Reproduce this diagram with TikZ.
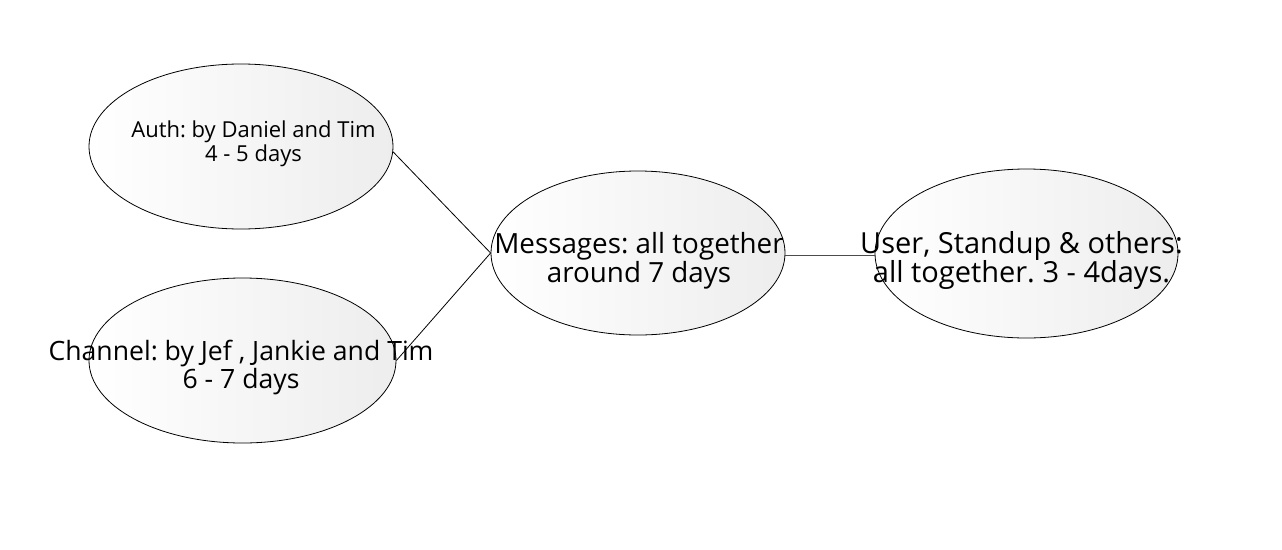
\documentclass[tikz,border=0pt]{standalone}
\usepackage{fontspec}
\setmainfont{Open Sans}
\usetikzlibrary{shapes.geometric}
\frenchspacing
\begin{document}
\begin{tikzpicture}[x=1pt,y=-1pt,
  blob/.style={ellipse,draw=black,line width=0.8pt,inner sep=0pt,
    shading=axis,left color=white,right color=gray!14,shading angle=90},
  lbl/.style={align=center,inner sep=0pt,text=black,anchor=base},
  conn/.style={draw=black,line width=0.8pt}]
\useasboundingbox (0,0) rectangle (1282,549);
\node[blob,minimum width=304pt,minimum height=165pt] (auth) at (241,146.5) {};
\node[blob,minimum width=307pt,minimum height=165pt] (chan) at (242.5,360.5) {};
\node[blob,minimum width=294pt,minimum height=164pt] (msg) at (638,253) {};
\node[blob,minimum width=303pt,minimum height=169pt] (user) at (1026.5,253.5) {};
\draw[conn] (auth.-2) -- (msg.west) -- (chan.east);
\draw[conn,draw=gray!60!black,line width=1.2pt] (msg.-1) -- (msg.-1 -| user.west);
\node[lbl,font=\fontsize{22}{24}\selectfont] (tauth) at (253.5,161) {Auth: by Daniel and Tim\\4 - 5 days};
\node[lbl,font=\fontsize{26.6}{28}\selectfont] (tchan) at (241,388) {Channel: by Jef , Jankie and Tim\\6 - 7 days};
\node[lbl,font=\fontsize{27.8}{29}\selectfont] (tmsg) at (639,282) {Messages: all together\\around 7 days};
\node[lbl,font=\fontsize{29}{29}\selectfont] (tuser) at (1021.5,282) {User, Standup \& others:\\all together. 3 - 4days.};
\end{tikzpicture}
\end{document}
